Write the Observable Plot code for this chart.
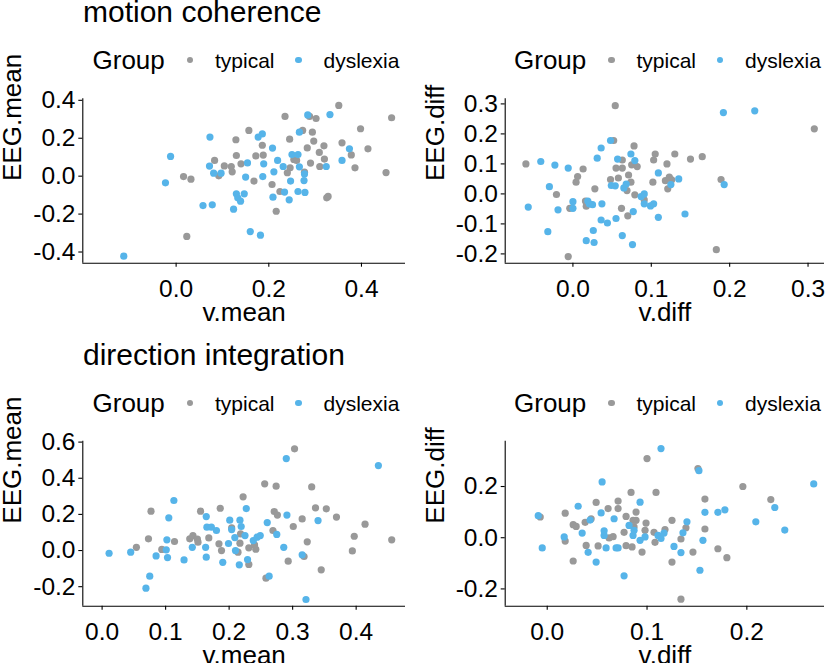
<!DOCTYPE html>
<html><head><meta charset="utf-8">
<script src="https://cdn.jsdelivr.net/npm/d3@7"></script>
<script src="https://cdn.jsdelivr.net/npm/@observablehq/plot@0.6"></script>
<style>
body{margin:0;background:#fff;}
#root{position:relative;width:828px;height:663px;overflow:hidden;background:#fff;font-family:"Liberation Sans",Arial,sans-serif;color:#000;}
.t{position:absolute;white-space:nowrap;line-height:1;}
.dot{position:absolute;border-radius:50%;}
.panel{position:absolute;}
</style></head><body><div id="root"></div>
<script>
const groups = ["typical", "dyslexia"];
const groupColors = ["#999999", "#56B4E9"];
const sectionTitles = ["motion coherence", "direction integration"];
const legendTitle = "Group";

// motion coherence: v.mean vs EEG.mean
const mcMeanTypical = [[0.016,-0.002],[0.032,-0.016],[0.023,-0.318],[0.083,0.083],[0.092,0.002],[0.104,0.054],[0.119,0.051],[0.121,0.023],[0.129,0.192],[0.130,0.109],[0.140,0.065],[0.157,0.241],[0.168,-0.026],[0.172,0.107],[0.186,0.163],[0.188,0.111],[0.207,-0.044],[0.216,-0.185],[0.224,-0.081],[0.235,0.315],[0.245,0.195],[0.246,0.044],[0.240,0.018],[0.254,0.088],[0.260,0.083],[0.273,0.241],[0.277,0.021],[0.283,0.149],[0.288,0.315],[0.302,0.304],[0.294,0.232],[0.297,0.185],[0.290,0.069],[0.309,0.125],[0.310,0.051],[0.319,0.160],[0.320,0.090],[0.325,-0.114],[0.328,-0.107],[0.351,0.373],[0.358,0.176],[0.378,0.112],[0.386,0.044],[0.398,0.250],[0.414,0.144],[0.453,0.019],[0.465,0.308]];
const mcMeanDyslexia = [[-0.113,-0.422],[-0.023,-0.035],[-0.012,0.104],[0.073,0.206],[0.072,0.053],[0.081,0.016],[0.097,0.016],[0.058,-0.155],[0.078,-0.151],[0.124,-0.174],[0.130,-0.093],[0.133,-0.114],[0.139,-0.132],[0.147,-0.093],[0.154,0.070],[0.150,-0.005],[0.160,-0.292],[0.182,-0.311],[0.177,0.206],[0.186,0.223],[0.189,0.065],[0.187,-0.002],[0.208,0.148],[0.211,0.023],[0.209,-0.111],[0.219,0.083],[0.231,0.051],[0.234,-0.084],[0.244,-0.125],[0.247,-0.026],[0.250,0.114],[0.263,0.114],[0.266,0.232],[0.266,0.049],[0.263,-0.081],[0.276,-0.023],[0.277,0.012],[0.278,-0.086],[0.284,0.323],[0.332,0.325],[0.324,0.051],[0.358,0.083],[0.374,0.144]];

// motion coherence: v.diff vs EEG.diff
const mcDiffTypical = [[-0.060,0.100],[-0.021,-0.002],[-0.004,-0.048],[-0.006,-0.209],[0.004,0.039],[0.006,0.058],[0.013,0.083],[0.016,-0.024],[0.017,-0.041],[0.028,0.017],[0.048,0.048],[0.052,0.178],[0.054,0.294],[0.055,0.086],[0.058,0.053],[0.063,0.113],[0.063,0.086],[0.062,-0.048],[0.069,0.011],[0.070,-0.073],[0.071,0.063],[0.074,0.039],[0.075,0.097],[0.078,0.160],[0.079,-0.003],[0.082,0.091],[0.091,-0.020],[0.102,0.039],[0.103,0.113],[0.105,0.133],[0.118,0.044],[0.120,0.100],[0.121,0.017],[0.123,0.056],[0.126,0.047],[0.130,0.133],[0.150,0.116],[0.165,0.124],[0.183,-0.186],[0.189,0.048],[0.308,0.217]];
const mcDiffDyslexia = [[-0.057,-0.044],[-0.041,0.108],[-0.032,-0.126],[-0.030,0.024],[-0.023,0.096],[-0.019,-0.053],[-0.006,0.086],[0.000,-0.026],[0.000,-0.048],[0.017,-0.156],[0.019,-0.024],[0.021,-0.033],[0.025,-0.036],[0.026,-0.122],[0.027,-0.162],[0.031,0.119],[0.036,0.153],[0.036,-0.087],[0.037,-0.033],[0.044,-0.097],[0.048,0.178],[0.049,0.028],[0.054,0.027],[0.055,-0.082],[0.057,0.116],[0.063,-0.139],[0.065,0.020],[0.068,0.033],[0.074,0.133],[0.077,-0.059],[0.076,-0.169],[0.079,0.111],[0.087,-0.009],[0.091,0.000],[0.091,-0.033],[0.099,-0.040],[0.103,-0.033],[0.109,0.070],[0.109,-0.078],[0.125,0.031],[0.135,0.050],[0.143,-0.067],[0.192,0.271],[0.193,0.031],[0.232,0.277]];

// direction integration: v.mean vs EEG.mean
const diMeanTypical = [[0.054,0.018],[0.073,0.065],[0.077,0.218],[0.094,0.006],[0.114,0.050],[0.138,0.065],[0.143,0.083],[0.150,0.063],[0.151,0.046],[0.155,0.218],[0.168,0.070],[0.184,0.037],[0.186,0.234],[0.188,0.000],[0.204,0.125],[0.214,-0.009],[0.217,0.041],[0.218,0.092],[0.222,0.297],[0.231,0.015],[0.231,-0.077],[0.240,0.031],[0.242,0.007],[0.256,0.369],[0.258,-0.153],[0.269,0.111],[0.271,0.216],[0.274,0.356],[0.276,0.196],[0.293,-0.059],[0.301,0.133],[0.303,0.563],[0.315,0.175],[0.318,-0.033],[0.323,0.048],[0.330,0.352],[0.336,0.236],[0.345,-0.107],[0.353,0.231],[0.369,0.185],[0.394,-0.002],[0.397,0.079],[0.414,0.146],[0.456,0.059]];
const diMeanDyslexia = [[0.011,-0.015],[0.045,-0.009],[0.069,-0.208],[0.075,-0.142],[0.085,-0.030],[0.101,0.004],[0.102,0.059],[0.103,-0.039],[0.105,0.181],[0.113,0.277],[0.129,-0.052],[0.142,0.018],[0.163,0.018],[0.164,0.188],[0.164,-0.037],[0.165,0.129],[0.172,0.129],[0.180,0.111],[0.190,-0.065],[0.199,0.039],[0.201,0.168],[0.204,0.116],[0.209,0.072],[0.210,0.000],[0.216,-0.079],[0.217,0.168],[0.219,0.133],[0.225,0.083],[0.227,0.232],[0.229,-0.050],[0.238,0.055],[0.244,0.074],[0.249,0.083],[0.260,0.155],[0.263,-0.142],[0.275,0.089],[0.286,0.018],[0.290,0.509],[0.291,0.196],[0.315,-0.024],[0.321,-0.271],[0.340,0.166],[0.435,0.470]];

// direction integration: v.diff vs EEG.diff
const diDiffTypical = [[-0.007,0.081],[0.018,0.096],[0.018,-0.013],[0.026,0.051],[0.029,0.044],[0.026,-0.091],[0.038,0.060],[0.039,-0.030],[0.044,0.074],[0.049,0.138],[0.051,-0.032],[0.061,0.114],[0.062,-0.001],[0.066,0.004],[0.071,0.143],[0.071,0.114],[0.077,0.021],[0.079,0.083],[0.079,-0.031],[0.084,0.177],[0.085,-0.036],[0.086,0.068],[0.089,0.100],[0.089,0.068],[0.087,0.042],[0.095,-0.056],[0.099,0.057],[0.098,0.029],[0.100,0.309],[0.107,0.021],[0.108,-0.018],[0.109,0.177],[0.118,0.032],[0.125,0.068],[0.125,-0.095],[0.134,-0.005],[0.134,-0.240],[0.139,0.039],[0.146,-0.056],[0.151,0.270],[0.158,0.151],[0.158,0.034],[0.171,-0.043],[0.180,-0.078],[0.196,0.200],[0.224,0.149]];
const diDiffDyslexia = [[-0.009,0.086],[-0.005,-0.040],[0.017,0.003],[0.031,0.123],[0.035,0.018],[0.041,-0.057],[0.043,0.069],[0.049,-0.095],[0.054,0.097],[0.055,0.218],[0.057,0.009],[0.057,0.027],[0.059,-0.040],[0.067,0.074],[0.069,-0.040],[0.071,-0.040],[0.077,-0.149],[0.082,0.048],[0.086,0.009],[0.087,0.029],[0.093,0.139],[0.093,-0.010],[0.098,0.003],[0.111,0.009],[0.114,-0.003],[0.114,0.348],[0.117,0.018],[0.127,-0.034],[0.134,-0.058],[0.136,0.019],[0.140,0.062],[0.152,0.262],[0.153,-0.127],[0.156,-0.010],[0.158,0.099],[0.171,0.099],[0.178,0.109],[0.209,0.062],[0.228,0.118],[0.238,0.030],[0.267,0.210]];

// tick values
const mcMeanXTicks = [0, 0.2, 0.4];
const mcMeanYTicks = [-0.4, -0.2, 0, 0.2, 0.4];
const mcDiffXTicks = [0, 0.1, 0.2, 0.3];
const mcDiffYTicks = [-0.2, -0.1, 0, 0.1, 0.2, 0.3];
const diMeanXTicks = [0, 0.1, 0.2, 0.3, 0.4];
const diMeanYTicks = [-0.2, 0, 0.2, 0.4, 0.6];
const diDiffXTicks = [0, 0.1, 0.2];
const diDiffYTicks = [-0.2, 0, 0.2];

const FONT = '"Liberation Sans", Arial, sans-serif';
const root = document.getElementById("root");

function textAt(str, x, baseline, size) {
  const d = document.createElement("div");
  d.className = "t";
  d.textContent = str;
  d.style.fontSize = size + "px";
  d.style.left = x + "px";
  d.style.top = (baseline - 0.8465 * size) + "px";
  root.appendChild(d);
}
function dotAt(cx, cy, r, color) {
  const d = document.createElement("div");
  d.className = "dot";
  d.style.left = (cx - r) + "px";
  d.style.top = (cy - r) + "px";
  d.style.width = d.style.height = (2 * r) + "px";
  d.style.background = color;
  root.appendChild(d);
}
function legend(x0, cy) {
  textAt(legendTitle, x0, cy + 9.4, 26);
  dotAt(x0 + 97.5, cy, 3.2, groupColors[0]);
  textAt(groups[0], x0 + 122.5, cy + 7.6, 21);
  dotAt(x0 + 206, cy, 3.2, groupColors[1]);
  textAt(groups[1], x0 + 231, cy + 7.6, 21);
}

const fmt = d => d.toFixed(1);

function panel(cfg) {
  const data = [
    ...cfg.typical.map(([x, y]) => ({x, y, g: groups[0]})),
    ...cfg.dyslexia.map(([x, y]) => ({x, y, g: groups[1]}))
  ];
  const chart = Plot.plot({
    width: cfg.w, height: cfg.h,
    marginLeft: cfg.ml, marginRight: cfg.mr, marginTop: cfg.mt, marginBottom: cfg.mb,
    x: {domain: cfg.xd},
    y: {domain: cfg.yd},
    color: {domain: groups, range: groupColors},
    style: {fontFamily: FONT, background: "transparent", overflow: "visible", color: "black"},
    marks: [
      Plot.axisX({ticks: cfg.xt, tickFormat: fmt, tickSize: 4, tickPadding: 12.5, fontSize: 24.5, label: null, color: "black", strokeWidth: 1.1}),
      Plot.axisY({ticks: cfg.yt, tickFormat: fmt, tickSize: 4, tickPadding: 3.3, fontSize: 24.5, label: null, color: "black", strokeWidth: 1.1}),
      Plot.dot(data, {x: "x", y: "y", fill: "g", r: 3.6}),
      Plot.ruleX([cfg.xd[0]], {stroke: "black", strokeWidth: 1.1}),
      Plot.ruleY([cfg.yd[0]], {stroke: "black", strokeWidth: 1.1}),
      Plot.text([cfg.xlab], {text: d => d, frameAnchor: "bottom", dy: 58, lineAnchor: "bottom", fontSize: 26, fill: "black"}),
      Plot.text([cfg.ylab], {text: d => d, frameAnchor: "left", dx: -61.6, rotate: -90, lineAnchor: "bottom", fontSize: 26, fill: "black"})
    ]
  });
  const wrap = document.createElement("div");
  wrap.className = "panel";
  wrap.style.left = cfg.left + "px";
  wrap.style.top = cfg.top + "px";
  wrap.appendChild(chart);
  root.appendChild(wrap);
}

// section titles and legends
textAt(sectionTitles[0], 83, 22, 30);
legend(92.5, 60);
legend(514, 60);
textAt(sectionTitles[1], 83, 365, 30);
legend(92.5, 402.7);
legend(514, 402.7);

panel({left: 0, top: 80, w: 414, h: 260, ml: 82.3, mr: 9, mt: 18.3, mb: 77.3,
  xd: [-0.2014, 0.495], yd: [-0.459, 0.408], xt: mcMeanXTicks, yt: mcMeanYTicks,
  typical: mcMeanTypical, dyslexia: mcMeanDyslexia, xlab: "v.mean", ylab: "EEG.mean"});
panel({left: 414, top: 80, w: 414, h: 260, ml: 90.7, mr: 4, mt: 18.3, mb: 77.3,
  xd: [-0.0864, 0.321], yd: [-0.231, 0.317], xt: mcDiffXTicks, yt: mcDiffYTicks,
  typical: mcDiffTypical, dyslexia: mcDiffDyslexia, xlab: "v.diff", ylab: "EEG.diff"});
panel({left: 0, top: 420, w: 414, h: 243, ml: 82.3, mr: 9, mt: 20.7, mb: 57.3,
  xd: [-0.0304, 0.4777], yd: [-0.308, 0.605], xt: diMeanXTicks, yt: diMeanYTicks,
  typical: diMeanTypical, dyslexia: diMeanDyslexia, xlab: "v.mean", ylab: "EEG.mean"});
panel({left: 414, top: 420, w: 414, h: 243, ml: 90.7, mr: 4, mt: 20.7, mb: 57.3,
  xd: [-0.0421, 0.2778], yd: [-0.2675, 0.377], xt: diDiffXTicks, yt: diDiffYTicks,
  typical: diDiffTypical, dyslexia: diDiffDyslexia, xlab: "v.diff", ylab: "EEG.diff"});
</script></body></html>
